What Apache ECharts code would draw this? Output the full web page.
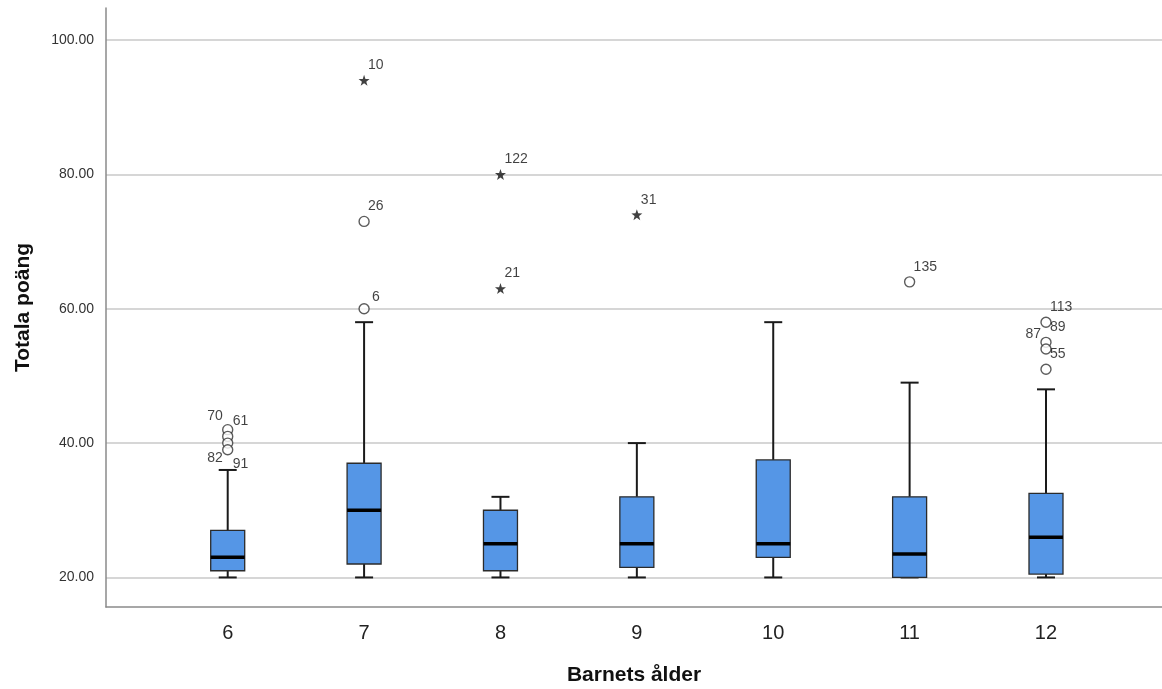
<!DOCTYPE html>
<html>
<head>
<meta charset="utf-8">
<script src="https://cdn.jsdelivr.net/npm/echarts@6/dist/echarts.min.js"></script>
<style>html,body{margin:0;padding:0;background:#fff}#chart{width:1162px;height:689px}</style>
</head>
<body>
<div id="chart"></div>
<script>
// ---- data ----
const ages = [6, 7, 8, 9, 10, 11, 12];
const mins = [20, 20, 20, 20, 20, 20, 20];
const q1s = [21, 22, 21, 21.5, 23, 20, 20.5];
const medians = [23, 30, 25, 25, 25, 23.5, 26];
const q3s = [27, 37, 30, 32, 37.5, 32, 32.5];
const maxs = [36, 58, 32, 40, 58, 49, 48];
// outliers: [age, value, case id]
const circleOutliers = [
  [6, 42, '70'], [6, 41, '61'], [6, 40, '82'], [6, 39, '91'],
  [7, 73, '26'], [7, 60, '6'],
  [11, 64, '135'],
  [12, 58, '113'], [12, 55, '89'], [12, 54, '87'], [12, 51, '55']
];
const extremeOutliers = [[7, 94, '10'], [8, 80, '122'], [8, 63, '21'], [9, 74, '31']];
const yTicks = [20, 40, 60, 80, 100];

// ---- label placement (style only) ----
const labelStyle = {
  '70': {align: 'right', offset: [-5, -14]},
  '61': {align: 'left', offset: [5, -15]},
  '82': {align: 'right', offset: [-5, 15]},
  '91': {align: 'left', offset: [5, 14]},
  '87': {align: 'right', offset: [-5, -15]},
  '6': {align: 'left', offset: [8, -12]}
};
const defaultLabel = {align: 'left', offset: [4, -15]};

const FONT = '"Liberation Sans", Arial, sans-serif';
const chart = echarts.init(document.getElementById('chart'), null, {renderer: 'canvas'});

function outlierData(list) {
  return list.map(([a, v, id]) => {
    const ls = labelStyle[id] || defaultLabel;
    return {
      value: [a, v], name: id,
      label: {show: true, position: 'inside', formatter: id, align: ls.align, verticalAlign: 'middle', offset: ls.offset}
    };
  });
}

const starPath = 'path://M0,-10 L2.35,-3.24 9.51,-3.09 3.8,1.24 5.88,8.09 0,4 -5.88,8.09 -3.8,1.24 -9.51,-3.09 -2.35,-3.24 Z';

chart.setOption({
  animation: false,
  backgroundColor: '#ffffff',
  grid: {left: 106, right: 0, top: 8, bottom: 82, containLabel: false, outerBoundsMode: 'none'},
  xAxis: {
    type: 'value', min: 5.1076, max: 12.8506,
    name: 'Barnets ålder', nameLocation: 'middle', nameGap: 58,
    nameTextStyle: {fontFamily: FONT, fontSize: 21, fontWeight: 'bold', color: '#111'},
    axisLine: {show: true, onZero: false, lineStyle: {color: '#8a8a8a', width: 1.5}},
    axisTick: {show: false, customValues: ages},
    splitLine: {show: false},
    axisLabel: {customValues: ages, fontFamily: FONT, fontSize: 20, color: '#222', margin: 16}
  },
  yAxis: {
    type: 'value', min: 15.6, max: 104.77,
    name: 'Totala poäng', nameLocation: 'middle', nameGap: 72,
    nameTextStyle: {fontFamily: FONT, fontSize: 21, fontWeight: 'bold', color: '#111'},
    axisLine: {show: true, onZero: false, lineStyle: {color: '#8a8a8a', width: 1.5}},
    axisTick: {show: false, customValues: yTicks},
    splitLine: {show: true, lineStyle: {color: '#c8c8c8', width: 1.5}},
    axisLabel: {customValues: yTicks, formatter: v => v.toFixed(2), fontFamily: FONT, fontSize: 14, color: '#333', margin: 12}
  },
  series: [
    {
      type: 'custom',
      encode: {x: 0, y: [1, 2, 3, 4, 5]},
      data: ages.map((a, i) => [a, mins[i], q1s[i], medians[i], q3s[i], maxs[i]]),
      renderItem: function (params, api) {
        const x = api.value(0);
        const pMin = api.coord([x, api.value(1)]);
        const pQ1 = api.coord([x, api.value(2)]);
        const pMed = api.coord([x, api.value(3)]);
        const pQ3 = api.coord([x, api.value(4)]);
        const pMax = api.coord([x, api.value(5)]);
        const cx = pMin[0];
        const bw = 34, cw = 18;
        const wStyle = {stroke: '#1a1a1a', lineWidth: 2};
        return {
          type: 'group',
          children: [
            {type: 'line', shape: {x1: cx, y1: pMax[1], x2: cx, y2: pQ3[1]}, style: wStyle},
            {type: 'line', shape: {x1: cx, y1: pQ1[1], x2: cx, y2: pMin[1]}, style: wStyle},
            {type: 'line', shape: {x1: cx - cw / 2, y1: pMax[1], x2: cx + cw / 2, y2: pMax[1]}, style: wStyle},
            {type: 'line', shape: {x1: cx - cw / 2, y1: pMin[1], x2: cx + cw / 2, y2: pMin[1]}, style: wStyle},
            {type: 'rect', shape: {x: cx - bw / 2, y: pQ3[1], width: bw, height: pQ1[1] - pQ3[1]},
              style: {fill: '#5596e6', stroke: '#2b2b2b', lineWidth: 1.3}},
            {type: 'line', shape: {x1: cx - bw / 2, y1: pMed[1], x2: cx + bw / 2, y2: pMed[1]},
              style: {stroke: '#000', lineWidth: 3.5}}
          ]
        };
      },
      z: 2
    },
    {
      type: 'scatter',
      symbol: 'circle', symbolSize: 10,
      itemStyle: {color: '#ffffff', borderColor: '#333', borderWidth: 1.4},
      label: {fontFamily: FONT, fontSize: 14, color: '#111'},
      data: outlierData(circleOutliers),
      z: 3
    },
    {
      type: 'scatter',
      symbol: starPath, symbolSize: 11,
      itemStyle: {color: '#111'},
      label: {fontFamily: FONT, fontSize: 14, color: '#111'},
      data: outlierData(extremeOutliers),
      z: 3
    }
  ]
});
</script>
</body>
</html>
